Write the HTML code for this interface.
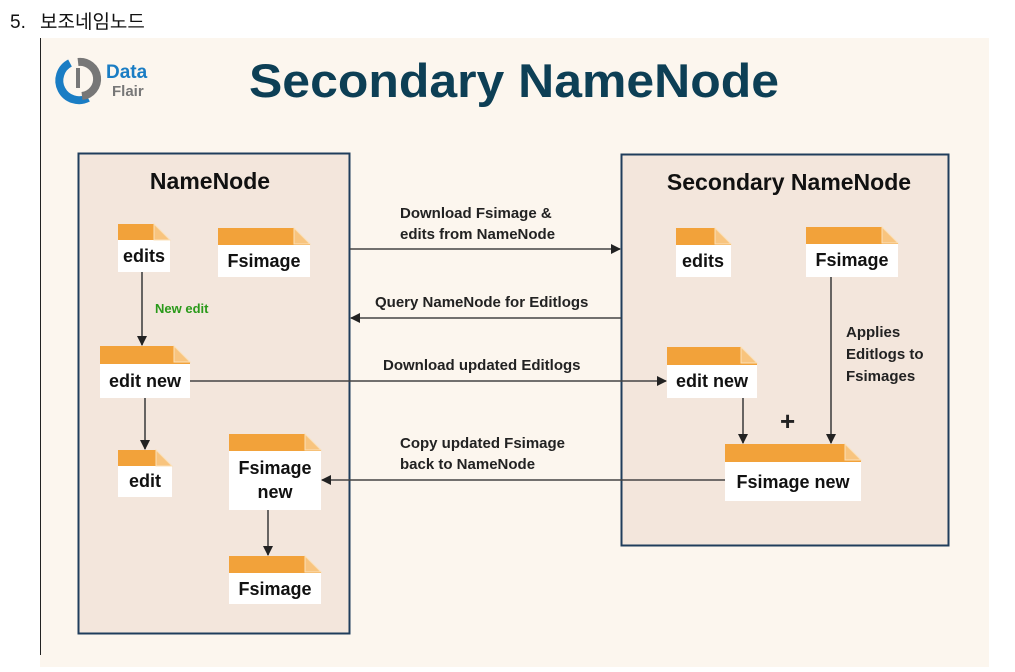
<!DOCTYPE html>
<html><head><meta charset="utf-8"><style>
body{margin:0;background:#fff;width:1015px;height:667px;overflow:hidden;font-family:"Liberation Sans","Noto Sans CJK KR",sans-serif}
</style></head><body>
<svg width="1015" height="667" xmlns="http://www.w3.org/2000/svg" font-family="Liberation Sans, sans-serif">
<text x="10" y="28" font-size="19" fill="#111" font-family="Liberation Sans, Noto Sans CJK KR, sans-serif">5.</text>
<text x="40" y="28" font-size="19" fill="#111" font-family="Liberation Sans, Noto Sans CJK KR, sans-serif">보조네임노드</text>
<rect x="40" y="38" width="949" height="629" fill="#fcf6ee"/>
<line x1="40.5" y1="38" x2="40.5" y2="655" stroke="#222" stroke-width="1"/>
<path d="M70 63 A16 16 0 1 0 88 98" fill="none" stroke="#1a7dc4" stroke-width="8"/>
<path d="M78 62 A15 15 0 0 1 82 96" fill="none" stroke="#777" stroke-width="8"/>
<line x1="78" y1="68" x2="78" y2="88" stroke="#777" stroke-width="4"/>
<text x="106" y="78" font-size="19" font-weight="bold" fill="#1a7dc4">Data</text>
<text x="112" y="96" font-size="15" font-weight="bold" fill="#777">Flair</text>
<text x="514" y="97" font-size="47" font-weight="bold" fill="#0d3f55" text-anchor="middle" textLength="530" lengthAdjust="spacingAndGlyphs">Secondary NameNode</text>
<rect x="78.5" y="153.5" width="271" height="480" fill="#f3e6dc" stroke="#1f3d5c" stroke-width="2"/>
<rect x="621.5" y="154.5" width="327" height="391" fill="#f3e6dc" stroke="#1f3d5c" stroke-width="2"/>
<text x="210" y="189" font-size="23" font-weight="bold" fill="#111" text-anchor="middle">NameNode</text>
<text x="789" y="190" font-size="23" font-weight="bold" fill="#111" text-anchor="middle">Secondary NameNode</text>
<defs>
<marker id="a" markerWidth="10" markerHeight="10" refX="9" refY="5" orient="auto" markerUnits="userSpaceOnUse"><path d="M0 0 L10 5 L0 10 Z" fill="#222"/></marker>
</defs>
<g stroke="#444" stroke-width="1.6" fill="none" marker-end="url(#a)">
<line x1="350" y1="249" x2="620" y2="249"/>
<line x1="621" y1="318" x2="351" y2="318"/>
<line x1="190" y1="381" x2="666" y2="381"/>
<line x1="725" y1="480" x2="322" y2="480"/>
<line x1="142" y1="272" x2="142" y2="345"/>
<line x1="145" y1="398" x2="145" y2="449"/>
<line x1="268" y1="510" x2="268" y2="555"/>
<line x1="743" y1="398" x2="743" y2="443"/>
<line x1="831" y1="277" x2="831" y2="443"/>
</g>
<g font-size="15" font-weight="bold" fill="#222">
<text x="400" y="218">Download Fsimage &amp;</text>
<text x="400" y="239">edits from NameNode</text>
<text x="375" y="307">Query NameNode for Editlogs</text>
<text x="383" y="370">Download updated Editlogs</text>
<text x="400" y="448">Copy updated Fsimage</text>
<text x="400" y="469">back to NameNode</text>
<text x="846" y="337">Applies</text>
<text x="846" y="359">Editlogs to</text>
<text x="846" y="381">Fsimages</text>
<text x="155" y="313" font-size="13" fill="#2a9a1a">New edit</text>
<text x="780" y="430" font-size="26">+</text>
</g>
<g fill="#fff">
<rect x="118" y="240" width="52" height="32"/>
<rect x="218" y="245" width="92" height="32"/>
<rect x="100" y="364" width="90" height="34"/>
<rect x="118" y="465" width="54" height="32"/>
<rect x="229" y="451" width="92" height="59"/>
<rect x="229" y="573" width="92" height="31"/>
<rect x="676" y="245" width="55" height="32"/>
<rect x="806" y="244" width="92" height="33"/>
<rect x="667" y="365" width="90" height="33"/>
<rect x="725" y="462" width="136" height="39"/>
</g>
<g fill="#f2a23a">
<path d="M118 224 H154 L170 240 V240 H118Z"/>
<path d="M218 228 H294 L310 244 V245 H218Z"/>
<path d="M100 346 H174 L190 362 V364 H100Z"/>
<path d="M118 450 H156 L172 466 V466 H118Z"/>
<path d="M229 434 H305 L321 450 V451 H229Z"/>
<path d="M229 556 H305 L321 572 V573 H229Z"/>
<path d="M676 228 H715 L731 244 V245 H676Z"/>
<path d="M806 227 H882 L898 243 V244 H806Z"/>
<path d="M667 347 H741 L757 363 V365 H667Z"/>
<path d="M725 444 H845 L861 460 V462 H725Z"/>
</g>
<g fill="#f8c47e" stroke="#fbe0b8" stroke-width="1">
<path d="M154 224 L170 240 H154Z"/>
<path d="M294 228 L310 244 H294Z"/>
<path d="M174 346 L190 362 H174Z"/>
<path d="M156 450 L172 466 H156Z"/>
<path d="M305 434 L321 450 H305Z"/>
<path d="M305 556 L321 572 H305Z"/>
<path d="M715 228 L731 244 H715Z"/>
<path d="M882 227 L898 243 H882Z"/>
<path d="M741 347 L757 363 H741Z"/>
<path d="M845 444 L861 460 H845Z"/>
</g>
<g font-size="18" font-weight="bold" fill="#111" text-anchor="middle">
<text x="144" y="262">edits</text>
<text x="264" y="267">Fsimage</text>
<text x="145" y="387">edit new</text>
<text x="145" y="487">edit</text>
<text x="275" y="474">Fsimage</text>
<text x="275" y="498">new</text>
<text x="275" y="595">Fsimage</text>
<text x="703" y="267">edits</text>
<text x="852" y="266">Fsimage</text>
<text x="712" y="387">edit new</text>
<text x="793" y="488">Fsimage new</text>
</g>
</svg>
</body></html>
